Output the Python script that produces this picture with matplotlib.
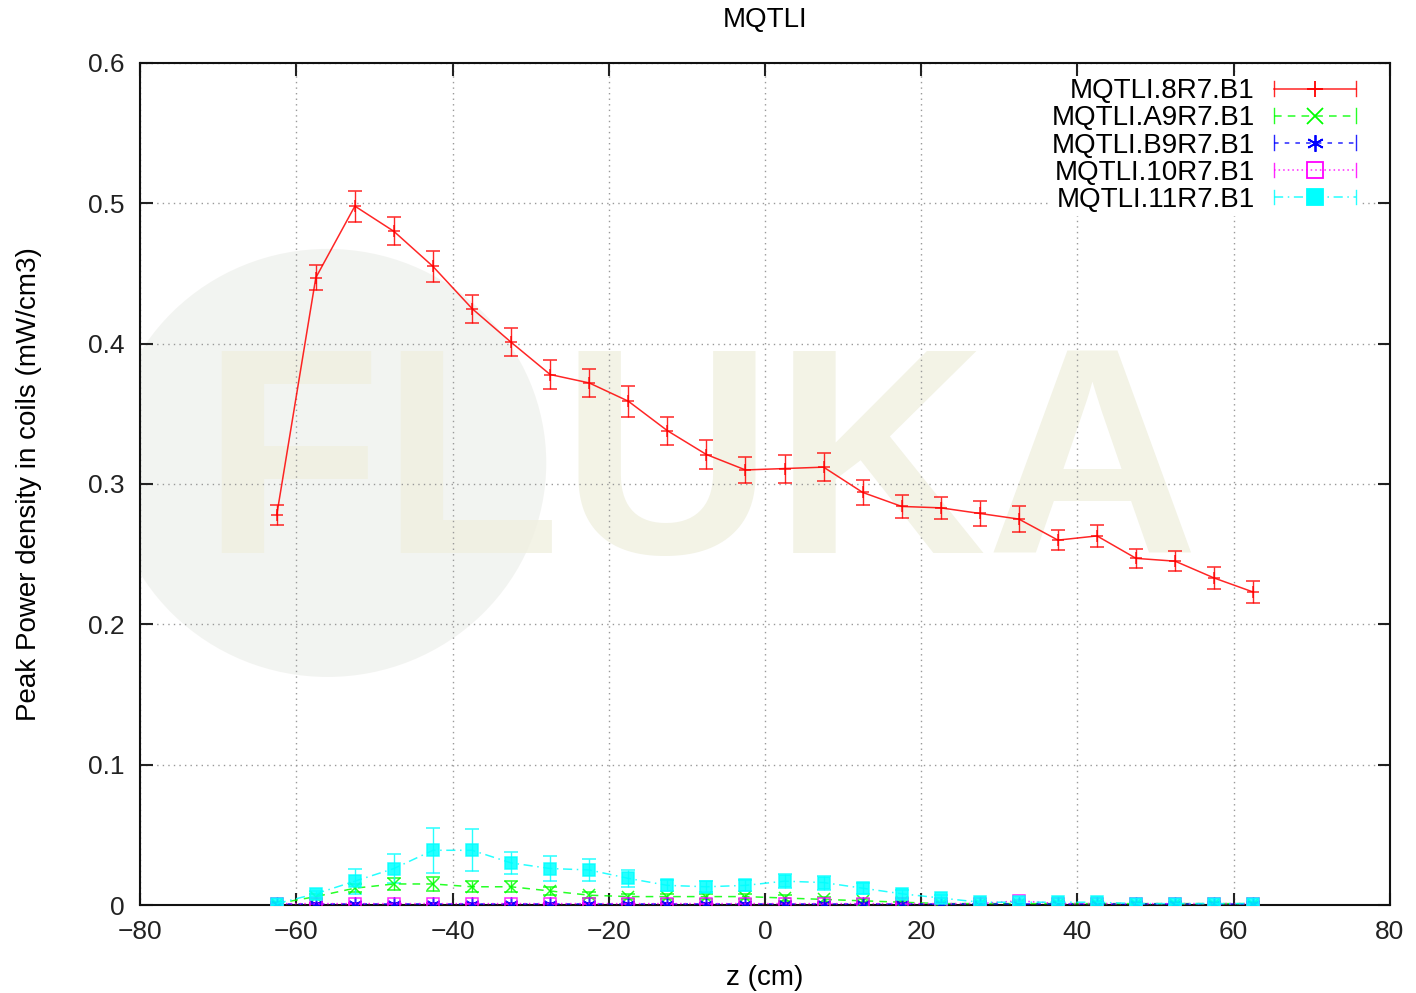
import matplotlib
matplotlib.use("Agg")
import matplotlib.pyplot as plt
from matplotlib.patches import Ellipse
from matplotlib.lines import Line2D
from matplotlib.legend_handler import HandlerBase
import numpy as np

plt.rcParams['font.family'] = ['Liberation Sans', 'DejaVu Sans']

z = [-62.5, -57.5, -52.5, -47.5, -42.5, -37.5, -32.5, -27.5, -22.5, -17.5, -12.5, -7.5, -2.5,
     2.5, 7.5, 12.5, 17.5, 22.5, 27.5, 32.5, 37.5, 42.5, 47.5, 52.5, 57.5, 62.5]

# MQTLI.8R7.B1
red = [0.278, 0.447, 0.498, 0.480, 0.455, 0.425, 0.401, 0.378, 0.372, 0.359, 0.338, 0.321, 0.310,
       0.311, 0.312, 0.294, 0.284, 0.283, 0.279, 0.275, 0.260, 0.263, 0.247, 0.245, 0.233, 0.223]
red_err = [0.007, 0.009, 0.011, 0.010, 0.011, 0.010, 0.010, 0.010, 0.010, 0.011, 0.010, 0.010, 0.009,
           0.010, 0.010, 0.009, 0.008, 0.008, 0.009, 0.009, 0.007, 0.008, 0.007, 0.007, 0.008, 0.008]
# MQTLI.A9R7.B1
green = [0.001, 0.006, 0.012, 0.015, 0.015, 0.013, 0.013, 0.010, 0.007, 0.006, 0.006, 0.006, 0.006,
         0.005, 0.004, 0.003, 0.002, 0.001, 0.001, 0.001, 0.001, 0.001, 0.001, 0.001, 0.001, 0.001]
green_err = [0.001, 0.002, 0.003, 0.004, 0.005, 0.004, 0.004, 0.003, 0.002, 0.002, 0.002, 0.002, 0.002,
             0.002, 0.002, 0.001, 0.001, 0.001, 0.001, 0.001, 0.001, 0.001, 0.001, 0.001, 0.001, 0.001]
# MQTLI.B9R7.B1
blue = [0.001] * 26
blue_err = [0.0005] * 26
# MQTLI.10R7.B1
magenta = [0.001, 0.001, 0.001, 0.001, 0.001, 0.001, 0.001, 0.001, 0.001, 0.001, 0.001, 0.001, 0.001,
           0.001, 0.001, 0.001, 0.001, 0.001, 0.001, 0.003, 0.001, 0.001, 0.001, 0.001, 0.001, 0.001]
magenta_err = [0.0005] * 26
# MQTLI.11R7.B1
cyan = [0.001, 0.008, 0.017, 0.026, 0.039, 0.039, 0.030, 0.026, 0.025, 0.019, 0.014, 0.013, 0.014,
        0.017, 0.016, 0.012, 0.008, 0.005, 0.002, 0.002, 0.002, 0.002, 0.001, 0.001, 0.001, 0.001]
cyan_err = [0.001, 0.002, 0.009, 0.010, 0.016, 0.015, 0.008, 0.009, 0.008, 0.006, 0.004, 0.004, 0.004,
            0.005, 0.005, 0.004, 0.003, 0.002, 0.001, 0.001, 0.001, 0.001, 0.001, 0.001, 0.001, 0.001]


class GnuplotHandler(HandlerBase):
    # gnuplot style key sample: line, end ticks, marker in the middle
    def create_artists(self, legend, orig, xdescent, ydescent, width, height, fontsize, trans):
        y = height / 2 - ydescent
        x0, x1 = -xdescent, width - xdescent
        c = orig.get_color()
        h = height * 0.38
        line = Line2D([x0, x1], [y, y], color=c, linewidth=1.1, alpha=0.85)
        line.set_linestyle(orig.get_gid())
        e0 = Line2D([x0, x0], [y - h, y + h], color=c, linewidth=1.0, alpha=0.85)
        e1 = Line2D([x1, x1], [y - h, y + h], color=c, linewidth=1.0, alpha=0.85)
        m = Line2D([(x0 + x1) / 2], [y], color=c, linestyle='none', marker=orig.get_marker(),
                   markersize=orig.get_markersize() + 2, markerfacecolor=orig.get_markerfacecolor(),
                   markeredgecolor=c, markeredgewidth=1.3)
        arts = [line, e0, e1, m]
        for a in arts:
            a.set_transform(trans)
        return arts


fig = plt.figure(figsize=(14.16, 9.93), dpi=100)
ax = fig.add_axes([0.0989, 0.0886, 0.8827, 0.848])

# faint FLUKA watermark in the background
ax.add_patch(Ellipse((-56, 0.315), 56, 0.305, facecolor='#e9ebe6', edgecolor='none', alpha=0.55, zorder=0))
ax.text(-8.3, 0.305, 'FLUKA', fontsize=212, fontweight='bold', color='#f0f0e0', alpha=0.8,
        ha='center', va='center', zorder=0.5)

series = [
    ('MQTLI.8R7.B1', red, red_err, '#ff0000', '-', '+', 'none', 9),
    ('MQTLI.A9R7.B1', green, green_err, '#00ff00', (0, (5, 4)), 'x', 'none', 9),
    ('MQTLI.B9R7.B1', blue, blue_err, '#0000ff', (0, (3, 4)), (6, 2, 0), 'none', 10),
    ('MQTLI.10R7.B1', magenta, magenta_err, '#ff00ff', (0, (1, 2)), 's', 'none', 9),
    ('MQTLI.11R7.B1', cyan, cyan_err, '#00ffff', (0, (6, 3, 1, 3)), 's', '#00ffff', 9),
]
handles = []
for name, y, yerr, col, ls, mk, mfc, ms in series:
    eb = ax.errorbar(z, y, yerr=yerr, color=col, linestyle=ls, linewidth=1.1, marker=mk,
                     markersize=ms, markerfacecolor=mfc, markeredgecolor=col, markeredgewidth=1.1,
                     ecolor=col, elinewidth=1.0, capsize=5, capthick=1.0, alpha=0.85,
                     label=name, zorder=3)
    eb[0].set_gid(ls)
    handles.append(eb[0])

ax.set_xlim(-80, 80)
ax.set_ylim(0, 0.6)
ax.set_xticks(np.arange(-80, 81, 20))
ax.set_yticks([0, 0.1, 0.2, 0.3, 0.4, 0.5, 0.6])
ax.set_yticklabels(['0', '0.1', '0.2', '0.3', '0.4', '0.5', '0.6'])
ax.tick_params(direction='in', length=9, width=1.5, top=True, right=True, labelsize=19, pad=11,
               colors='#222222')
ax.grid(True, linestyle=(0, (1, 3)), color='#999999', linewidth=1.0)
for s in ax.spines.values():
    s.set_linewidth(1.5)
    s.set_color('#111111')

ax.set_xlabel('z (cm)', fontsize=20, labelpad=15)
ax.set_ylabel('Peak Power density in coils (mW/cm3)', fontsize=20, labelpad=33)
ax.set_title('MQTLI', fontsize=20, pad=26)

leg = ax.legend(handles, [s[0] for s in series], handler_map={Line2D: GnuplotHandler()},
                loc='upper right', bbox_to_anchor=(0.975, 0.985), markerfirst=False, fontsize=20,
                frameon=True, fancybox=False, handlelength=2.95, borderaxespad=0.0, borderpad=0.1,
                labelspacing=0.04, handletextpad=0.7)
leg.get_frame().set_edgecolor('none')
leg.get_frame().set_facecolor('white')
leg.get_frame().set_alpha(1.0)

fig.savefig('out.png', dpi=100)
